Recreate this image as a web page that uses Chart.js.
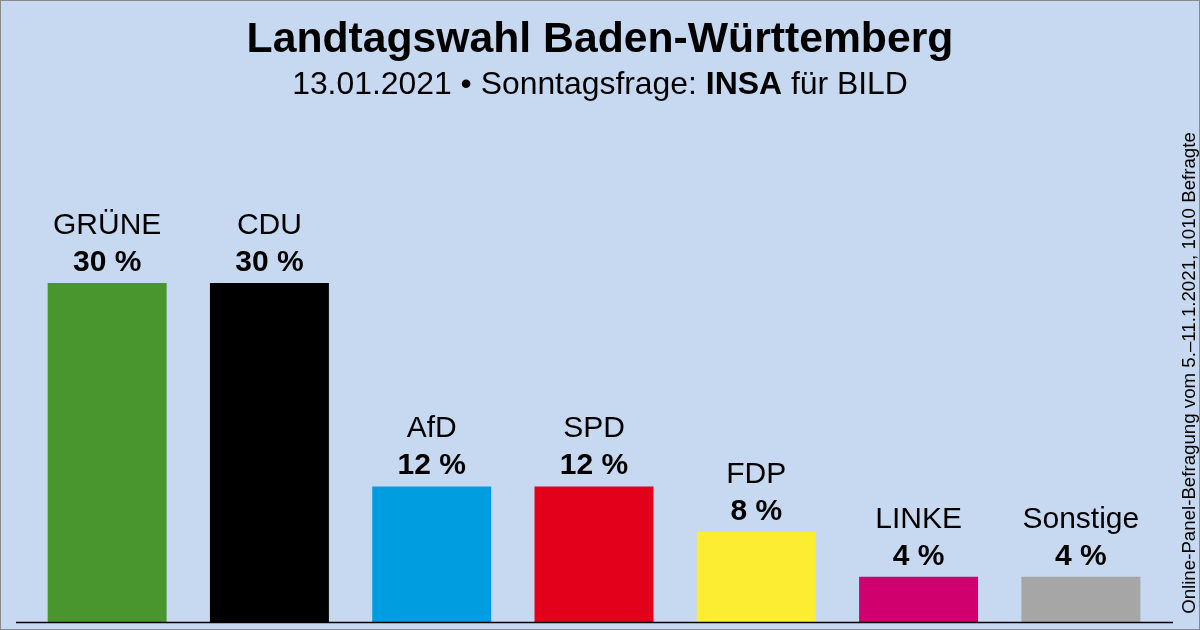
<!DOCTYPE html>
<html lang="de">
<head>
<meta charset="utf-8">
<title>Landtagswahl Baden-Württemberg</title>
<script src="https://cdn.jsdelivr.net/npm/chart.js@4"></script>
<style>
  body { margin: 0; overflow: hidden; font-family: "Liberation Sans", Arial, sans-serif; }
  #wrap {
    position: relative; width: 1200px; height: 630px;
    background: #c6d9f0; box-shadow: inset 0 0 0 1px #8a8a8a;
  }
  #chart { position: absolute; left: 0; top: 0; }
  .title {
    position: absolute; left: 0; width: 1200px; text-align: center; color: #000;
  }
  #head { top: 16px; font-size: 42.7px; line-height: 42px; font-weight: bold; }
  #sub { top: 67px; font-size: 31.9px; line-height: 32px; }
  #note {
    position: absolute; left: 939px; top: 364px; width: 500px; height: 18px;
    line-height: 18px; font-size: 18.7px; text-align: center; white-space: nowrap;
    transform: rotate(-90deg);
  }
</style>
</head>
<body>
<div id="wrap">
  <canvas id="chart" width="1200" height="630"></canvas>
  <div class="title" id="head">Landtagswahl Baden-Württemberg</div>
  <div class="title" id="sub">13.01.2021 • Sonntagsfrage: <b>INSA</b> für BILD</div>
  <div id="note">Online-Panel-Befragung vom 5.–11.1.2021, 1010 Befragte</div>
</div>
<script>
const parties = ["GRÜNE", "CDU", "AfD", "SPD", "FDP", "LINKE", "Sonstige"];
const values = [30, 30, 12, 12, 8, 4, 4];
const colors = ["#4a962e", "#000000", "#009ee0", "#e2001a", "#fcec32", "#d0006f", "#a6a6a6"];

const font = '"Liberation Sans", Arial, sans-serif';

// party name + percentage above each bar, plus the base line
const barLabels = {
  id: "barLabels",
  afterDatasetsDraw(chart) {
    const ctx = chart.ctx;
    const meta = chart.getDatasetMeta(0);
    const y0 = chart.scales.y.getPixelForValue(0);
    ctx.save();
    ctx.strokeStyle = "#000";
    ctx.lineWidth = 1.5;
    ctx.beginPath();
    ctx.moveTo(16, y0 + 0.5);
    ctx.lineTo(1173, y0 + 0.5);
    ctx.stroke();

    ctx.fillStyle = "#000";
    ctx.textAlign = "center";
    ctx.textBaseline = "alphabetic";
    meta.data.forEach((bar, i) => {
      ctx.font = "30px " + font;
      ctx.fillText(parties[i], bar.x, bar.y - 49);
      ctx.font = "bold 30px " + font;
      ctx.fillText(values[i] + " %", bar.x, bar.y - 12);
    });
    ctx.restore();
  }
};

new Chart(document.getElementById("chart"), {
  type: "bar",
  data: {
    labels: parties,
    datasets: [{
      data: values,
      backgroundColor: colors,
      borderWidth: 0,
      barPercentage: 0.733,
      categoryPercentage: 1
    }]
  },
  options: {
    responsive: false,
    animation: false,
    layout: { padding: { left: 26, right: 38, top: 170, bottom: 8 } },
    plugins: { legend: { display: false }, tooltip: { enabled: false } },
    scales: {
      x: { display: false },
      y: { display: false, min: 0, max: 40 }
    }
  },
  plugins: [barLabels]
});
</script>
</body>
</html>
